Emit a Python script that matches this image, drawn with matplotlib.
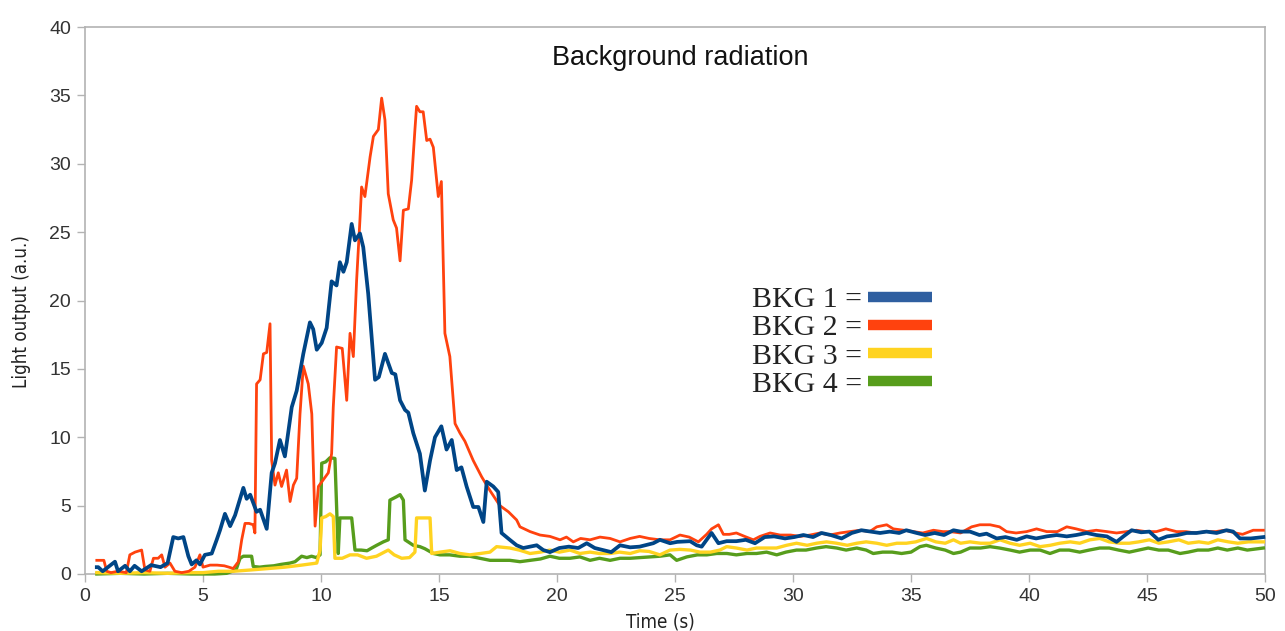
import matplotlib
matplotlib.use("Agg")
import matplotlib.pyplot as plt
from matplotlib.lines import Line2D
from matplotlib import font_manager as fm

# ---------------- data ----------------
bkg1_t = [0.5, 0.56, 0.75, 0.97, 1.27, 1.4, 1.7, 1.9, 2.1, 2.4, 2.8, 3.2, 3.5, 3.74, 3.95, 4.17, 4.38, 4.52, 4.72, 4.87,
          5.08, 5.37, 5.58, 5.72, 5.93, 6.15, 6.36, 6.71, 6.85, 7.0, 7.27, 7.42, 7.7, 7.91, 8.05, 8.26, 8.47, 8.76, 8.97,
          9.25, 9.53, 9.67, 9.82, 10.03, 10.24, 10.45, 10.66, 10.8, 10.95, 11.09, 11.3, 11.44, 11.65, 11.79, 12.0,
          12.29, 12.45, 12.71, 13.0, 13.15, 13.35, 13.56, 13.7, 13.91, 14.19, 14.4, 14.62, 14.83, 15.1, 15.32, 15.54,
          15.75, 15.95, 16.17, 16.45, 16.67, 16.88, 17.02, 17.3, 17.51, 17.65, 18.0, 18.29, 18.57, 18.85, 19.14, 19.42,
          19.7, 20.1, 20.5, 20.9, 21.26, 21.6, 21.96, 22.3, 22.67, 23.1, 23.5, 24.08, 24.36, 24.79, 25.1, 25.64, 25.92,
          26.13, 26.34, 26.55, 26.84, 27.19, 27.6, 28.0, 28.39, 28.8, 29.2, 29.66, 30.05, 30.44, 30.85, 31.21, 31.6,
          32.06, 32.49, 32.9, 33.3, 33.69, 34.1, 34.5, 34.8, 35.24, 35.6, 36.0, 36.4, 36.8, 37.1, 37.5, 37.9, 38.2,
          38.63, 39.0, 39.48, 39.9, 40.3, 40.75, 41.17, 41.6, 42.0, 42.44, 42.85, 43.3, 43.71, 44.0, 44.35, 44.75,
          45.1, 45.48, 45.85, 46.3, 46.68, 47.1, 47.52, 47.95, 48.37, 48.65, 48.94, 49.4, 49.93]
bkg1_v = [0.5, 0.5, 0.2, 0.5, 0.9, 0.2, 0.6, 0.2, 0.6, 0.2, 0.65, 0.5, 0.8, 2.7, 2.6, 2.7, 1.3, 0.7, 1.0, 0.7,
          1.4, 1.5, 2.5, 3.2, 4.4, 3.5, 4.3, 6.3, 5.5, 5.8, 4.55, 4.7, 3.3, 7.4, 8.1, 9.8, 8.6, 12.2, 13.4,
          16.1, 18.4, 17.9, 16.4, 16.9, 18.0, 21.4, 21.1, 22.8, 22.1, 22.8, 25.6, 24.4, 24.9, 23.9, 20.5,
          14.2, 14.4, 16.1, 14.7, 14.6, 12.7, 12.0, 11.8, 10.3, 8.8, 6.1, 8.3, 10.0, 10.8, 9.1, 9.8,
          7.6, 7.8, 6.4, 4.9, 4.9, 3.8, 6.75, 6.4, 6.0, 3.0, 2.5, 2.1, 1.9, 2.0, 2.1, 1.75,
          1.6, 1.9, 2.0, 1.9, 2.25, 1.9, 1.75, 1.6, 2.1, 1.95, 2.0, 2.25, 2.5, 2.25, 2.35, 2.4, 2.1,
          2.0, 2.5, 3.0, 2.25, 2.4, 2.4, 2.5, 2.25, 2.7, 2.75, 2.6, 2.7, 2.85, 2.7, 3.0, 2.85,
          2.6, 3.0, 3.2, 3.1, 3.0, 3.1, 3.0, 3.2, 3.0, 2.85, 3.0, 2.85, 3.2, 3.1, 3.1, 2.85, 2.95,
          2.6, 2.7, 2.5, 2.75, 2.6, 2.75, 2.85, 2.75, 2.85, 3.0, 2.85, 2.75, 2.35, 2.75, 3.2, 3.05,
          3.1, 2.5, 2.75, 2.85, 3.0, 3.0, 3.1, 3.0, 3.2, 3.1, 2.6, 2.6, 2.7]

bkg2_t = [0.5, 0.56, 0.8, 0.92, 1.1, 1.4, 1.75, 1.9, 2.12, 2.4, 2.54, 2.75, 2.9, 3.1, 3.25, 3.39, 3.6, 3.81, 4.1, 4.4,
          4.66, 4.87, 5.0, 5.3, 5.6, 5.9, 6.1, 6.28, 6.5, 6.64, 6.78, 6.95, 7.13, 7.2, 7.27, 7.42, 7.56, 7.7, 7.84,
          7.91, 8.05, 8.19, 8.33, 8.54, 8.69, 8.83, 8.97, 9.11, 9.25, 9.46, 9.61, 9.75, 9.89, 10.1, 10.31, 10.45,
          10.52, 10.66, 10.9, 11.09, 11.23, 11.37, 11.51, 11.65, 11.72, 11.86, 12.08, 12.22, 12.43, 12.57, 12.71,
          12.85, 13.06, 13.2, 13.35, 13.49, 13.7, 13.84, 13.98, 14.05, 14.19, 14.33, 14.48, 14.62, 14.76, 14.97,
          15.1, 15.25, 15.46, 15.68, 15.89, 16.1, 16.45, 16.81, 17.16, 17.58, 17.94, 18.29, 18.43, 18.86, 19.28,
          19.7, 20.13, 20.4, 20.69, 21.0, 21.4, 21.82, 22.25, 22.67, 23.1, 23.5, 23.9, 24.36, 24.79, 25.21, 25.6,
          25.99, 26.34, 26.55, 26.84, 27.05, 27.3, 27.6, 27.95, 28.32, 28.6, 29.03, 29.45, 29.9, 30.3, 30.72,
          31.15, 31.55, 31.99, 32.4, 32.85, 33.25, 33.55, 33.97, 34.25, 34.7, 35.1, 35.5, 35.95, 36.35, 36.65,
          37.1, 37.57, 37.92, 38.35, 38.75, 39.05, 39.45, 39.9, 40.32, 40.75, 41.2, 41.6, 42.0, 42.45, 42.85,
          43.3, 43.71, 44.15, 44.55, 44.95, 45.4, 45.8, 46.25, 46.65, 47.05, 47.5, 47.9, 48.3, 48.75, 49.05,
          49.5, 49.93]
bkg2_v = [1.0, 1.0, 1.0, 0.2, 0.1, 0.2, 0.1, 1.4, 1.6, 1.75, 0.3, 0.2, 1.15, 1.15, 1.4, 0.5, 0.8, 0.2, 0.1, 0.2,
          0.5, 1.4, 0.5, 0.65, 0.65, 0.6, 0.5, 0.4, 0.9, 2.5, 3.7, 3.7, 3.6, 3.0, 13.9, 14.2, 16.1, 16.2, 18.3,
          8.3, 6.5, 7.4, 6.4, 7.6, 5.3, 6.5, 7.0, 11.7, 15.2, 13.9, 11.7, 3.5, 6.4, 6.9, 7.4, 8.8,
          12.2, 16.6, 16.5, 12.7, 17.6, 15.9, 21.5, 25.9, 28.3, 27.6, 30.5, 32.0, 32.5, 34.8, 33.2,
          27.8, 25.9, 25.3, 22.9, 26.6, 26.7, 28.8, 32.5, 34.2, 33.8, 33.8, 31.7, 31.8, 31.2, 27.6,
          28.7, 17.6, 15.9, 11.0, 10.3, 9.7, 8.3, 7.1, 6.1, 5.0, 4.55, 3.95, 3.45, 3.1, 2.85,
          2.75, 2.5, 2.7, 2.35, 2.6, 2.5, 2.7, 2.6, 2.35, 2.6, 2.75, 2.6, 2.5, 2.5, 2.85, 2.7,
          2.35, 2.9, 3.3, 3.6, 2.9, 2.9, 3.0, 2.75, 2.5, 2.75, 3.0, 2.85, 2.85, 2.75, 2.85,
          3.0, 2.85, 3.0, 3.1, 3.2, 3.1, 3.45, 3.6, 3.3, 3.2, 3.1, 3.0, 3.2, 3.1, 3.1,
          3.0, 3.45, 3.6, 3.6, 3.45, 3.1, 3.0, 3.1, 3.3, 3.1, 3.1, 3.45, 3.3, 3.1, 3.2,
          3.1, 3.0, 3.1, 3.2, 3.1, 3.1, 3.3, 3.1, 3.1, 3.0, 3.1, 3.1, 3.2, 3.0, 2.9,
          3.2, 3.2]

bkg3_t = [0.5, 1.5, 2.5, 3.5, 4.5, 5.0, 5.65, 6.3, 7.06, 7.77, 8.47, 9.18, 9.82, 9.96, 10.03, 10.2, 10.38, 10.52,
          10.59, 10.9, 11.23, 11.55, 11.93, 12.35, 12.85, 13.1, 13.42, 13.75, 13.98, 14.05, 14.35, 14.62, 14.69,
          15.04, 15.47, 15.89, 16.31, 16.75, 17.16, 17.44, 18.0, 18.4, 18.86, 19.3, 19.7, 20.1, 20.55, 20.97,
          21.4, 21.8, 22.25, 22.65, 23.1, 23.5, 23.9, 24.36, 24.79, 25.2, 25.65, 26.06, 26.5, 26.9, 27.19, 27.6,
          28.05, 28.46, 28.9, 29.3, 29.73, 30.15, 30.6, 31.0, 31.42, 31.85, 32.3, 32.7, 33.1, 33.55, 33.97, 34.4,
          34.8, 35.2, 35.66, 36.05, 36.45, 36.8, 37.1, 37.5, 37.95, 38.35, 38.77, 39.2, 39.6, 40.05, 40.47, 40.9,
          41.3, 41.75, 42.15, 42.58, 43.0, 43.4, 43.85, 44.25, 44.65, 45.1, 45.5, 45.9, 46.35, 46.75, 47.2, 47.6,
          48.0, 48.45, 48.85, 49.3, 49.93]
bkg3_v = [0.1, 0.05, 0.1, 0.05, 0.1, 0.1, 0.2, 0.2, 0.3, 0.4, 0.5, 0.65, 0.8, 1.75, 4.1, 4.2, 4.4, 4.2,
          1.15, 1.15, 1.4, 1.4, 1.15, 1.3, 1.75, 1.4, 1.15, 1.2, 1.6, 4.1, 4.1, 4.1, 1.5,
          1.6, 1.7, 1.5, 1.4, 1.5, 1.6, 2.0, 1.9, 1.75, 1.5, 1.6, 1.75, 1.6, 1.75, 1.5,
          1.6, 1.5, 1.5, 1.6, 1.5, 1.7, 1.65, 1.4, 1.75, 1.8, 1.75, 1.6, 1.6, 1.75, 2.0, 1.9,
          1.75, 1.9, 1.9, 1.9, 2.1, 2.25, 2.1, 2.25, 2.35, 2.25, 2.1, 2.25, 2.35, 2.25, 2.1, 2.25,
          2.25, 2.35, 2.6, 2.35, 2.25, 2.5, 2.25, 2.35, 2.25, 2.25, 2.5, 2.25, 2.1, 2.25, 2.0, 2.1,
          2.25, 2.35, 2.25, 2.5, 2.6, 2.35, 2.25, 2.25, 2.35, 2.5, 2.25, 2.35, 2.5, 2.25, 2.35, 2.25,
          2.5, 2.35, 2.25, 2.35, 2.35]

bkg4_t = [0.5, 1.5, 2.5, 3.5, 4.5, 5.0, 5.5, 6.0, 6.4, 6.57, 6.71, 7.06, 7.13, 7.4, 7.63, 8.0, 8.3, 8.69, 8.9, 9.18,
          9.4, 9.6, 9.8, 9.96, 10.03, 10.2, 10.38, 10.59, 10.73, 10.8, 11.05, 11.3, 11.44, 11.7, 11.95, 12.15,
          12.36, 12.64, 12.85, 12.92, 13.2, 13.35, 13.49, 13.56, 13.91, 14.19, 14.4, 14.76, 15.04, 15.45, 15.89,
          16.3, 16.74, 17.16, 17.6, 18.0, 18.43, 18.85, 19.3, 19.7, 20.1, 20.55, 20.97, 21.4, 21.8, 22.25, 22.67,
          23.1, 23.5, 23.95, 24.36, 24.79, 25.07, 25.5, 25.95, 26.35, 26.77, 27.2, 27.6, 28.05, 28.45, 28.88,
          29.31, 29.7, 30.15, 30.55, 31.0, 31.4, 31.85, 32.25, 32.7, 33.1, 33.4, 33.8, 34.2, 34.6, 35.0, 35.38,
          35.65, 36.05, 36.45, 36.8, 37.1, 37.5, 37.95, 38.35, 38.75, 39.2, 39.6, 40.05, 40.47, 40.89, 41.3,
          41.7, 42.15, 42.55, 43.0, 43.4, 43.8, 44.25, 44.65, 45.05, 45.5, 45.9, 46.4, 46.75, 47.15, 47.6, 48.0,
          48.4, 48.85, 49.25, 49.93]
bkg4_v = [0.0, 0.05, 0.0, 0.05, 0.0, 0.0, 0.0, 0.05, 0.3, 1.15, 1.3, 1.3, 0.55, 0.5, 0.55, 0.6, 0.7, 0.8, 0.9, 1.3,
          1.2, 1.3, 1.2, 1.4, 8.1, 8.2, 8.5, 8.45, 1.5, 4.1, 4.1, 4.1, 1.75, 1.75, 1.7, 1.9,
          2.1, 2.35, 2.5, 5.4, 5.65, 5.8, 5.4, 2.5, 2.1, 2.0, 1.85, 1.5, 1.4, 1.4, 1.3,
          1.3, 1.15, 1.0, 1.0, 1.0, 0.9, 1.0, 1.1, 1.3, 1.15, 1.15, 1.25, 1.0, 1.15, 1.0, 1.15,
          1.15, 1.2, 1.25, 1.3, 1.4, 1.0, 1.25, 1.4, 1.4, 1.5, 1.5, 1.4, 1.5, 1.5, 1.6,
          1.4, 1.6, 1.75, 1.75, 1.9, 2.0, 1.9, 1.75, 1.9, 1.75, 1.5, 1.6, 1.6, 1.5, 1.6, 2.0,
          2.1, 1.9, 1.75, 1.5, 1.6, 1.9, 1.9, 2.0, 1.9, 1.75, 1.6, 1.75, 1.75, 1.5, 1.75,
          1.75, 1.6, 1.75, 1.9, 1.9, 1.75, 1.6, 1.75, 1.9, 1.75, 1.75, 1.5, 1.6, 1.75, 1.75, 1.9,
          1.75, 1.9, 1.75, 1.9]

labels = ["BKG 1 =", "BKG 2 =", "BKG 3 =", "BKG 4 ="]
line_colors = ["#004586", "#ff420e", "#ffd320", "#579d1c"]
swatch_colors = ["#2f5fa0", "#ff420e", "#ffd320", "#579d1c"]
title = "Background radiation"
xlabel = "Time (s)"
ylabel = "Light output (a.u.)"
xticks = [0, 5, 10, 15, 20, 25, 30, 35, 40, 45, 50]
yticks = [0, 5, 10, 15, 20, 25, 30, 35, 40]

# ---------------- fonts ----------------
names = {f.name for f in fm.fontManager.ttflist}
sans = "Liberation Sans" if "Liberation Sans" in names else "DejaVu Sans"
serif = "Liberation Serif" if "Liberation Serif" in names else "DejaVu Serif"
# condensed face for the axis titles
cond_props = dict(family=sans, size=14.5)
if "Liberation Sans Narrow" in names:
    cond_props = dict(family="Liberation Sans Narrow", size=14.5)
else:
    try:
        p = fm.findfont(fm.FontProperties(family="DejaVu Sans", stretch="condensed"), fallback_to_default=False)
        if "Condensed" in p:
            cond_props = dict(family="DejaVu Sans", stretch="condensed", size=13.5)
    except Exception:
        pass

W, H = 1285, 631
fig = plt.figure(figsize=(W / 100, H / 100), dpi=100)
ax = fig.add_axes([85 / W, (H - 574) / H, (1265 - 85) / W, (574 - 27) / H])

series = [(bkg4_t, bkg4_v, 3, 2.4), (bkg3_t, bkg3_v, 2, 2.4), (bkg2_t, bkg2_v, 1, 2.0), (bkg1_t, bkg1_v, 0, 2.7)]
for t, v, i, lw in series:
    ax.plot(t, v, color=line_colors[i], lw=lw, solid_joinstyle="round", zorder=3 + (3 - i), clip_on=False)

ax.set_xlim(0, 50)
ax.set_ylim(0, 40)
ax.set_xticks(xticks)
ax.set_yticks(yticks)
ax.set_xticklabels([str(x) for x in xticks], fontsize=14, color="#333333", family=sans)
ax.set_yticklabels([str(y) for y in yticks], fontsize=14, color="#333333", family=sans)
ax.tick_params(direction="out", length=6, width=1, color="#b3b3b3", pad=4)
for s in ax.spines.values():
    s.set_color("#b3b3b3")
    s.set_linewidth(1.2)

ax.set_xlabel(xlabel, color="#222222", **cond_props)
ax.xaxis.set_label_coords((660 - 85) / 1180, -(613 - 574) / 547)
ax.set_ylabel(ylabel, color="#222222", **cond_props)
ax.yaxis.set_label_coords(-(85 - 31) / 1180, (574 - 312) / 547)

ax.text((680 - 85) / 1180, (574 - 58) / 547, title, transform=ax.transAxes, ha="center", va="center",
        fontsize=19.5, family=sans, color="#111111")

handles = [Line2D([], [], color=c, lw=7.5, solid_capstyle="butt") for c in swatch_colors]
leg = ax.legend(handles, labels, loc="center left", bbox_to_anchor=((737 - 85) / 1180, (574 - 342) / 547),
                markerfirst=False, frameon=False, handlelength=2.15, handletextpad=0.2, labelspacing=0.04,
                borderpad=0, prop={"family": serif, "size": 21.5})
for txt in leg.get_texts():
    txt.set_color("#222222")

fig.savefig("out.png", dpi=100)
